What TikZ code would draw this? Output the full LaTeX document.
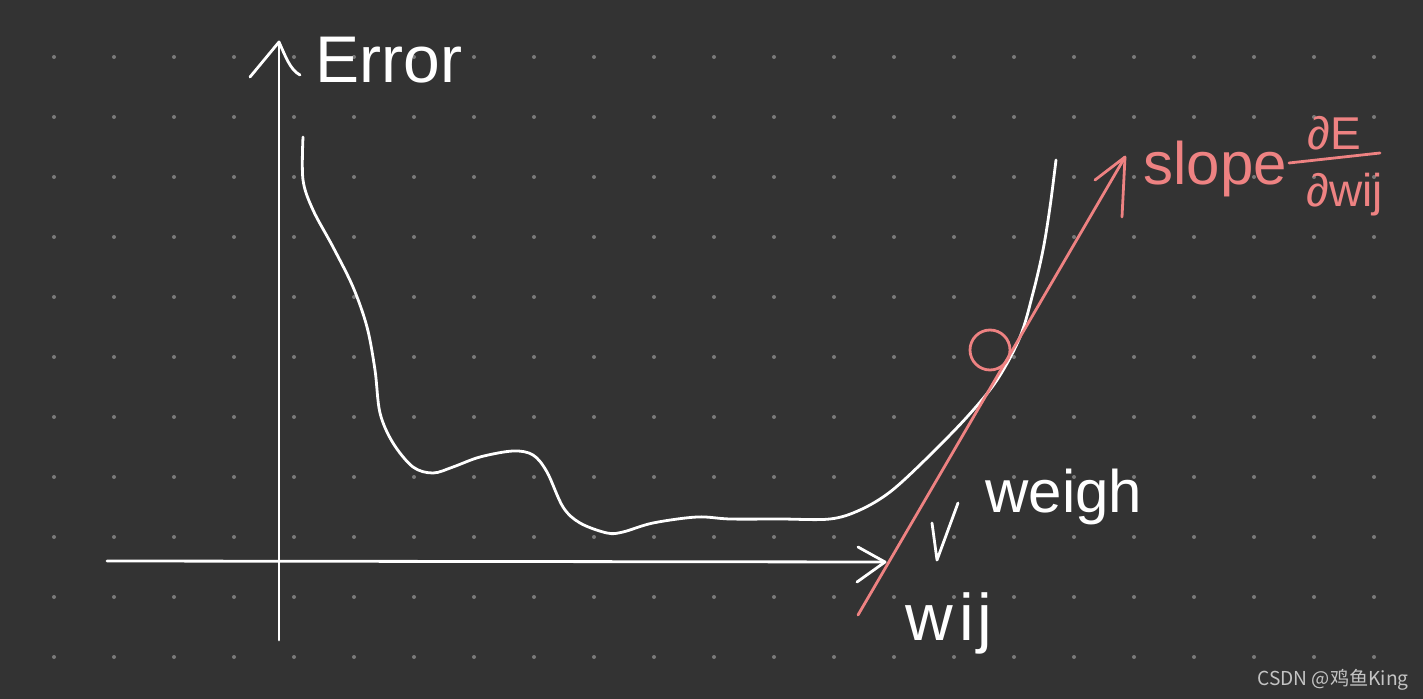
\documentclass[tikz,border=0pt]{standalone}
\usepackage{fontspec}
\setmainfont{Liberation Sans}
\newfontfamily\cjkfont{Noto Sans CJK SC}
\definecolor{bgc}{HTML}{333333}
\definecolor{dotc}{HTML}{7A7A7A}
\definecolor{pinkc}{HTML}{EE8282}
\definecolor{wmc}{HTML}{C4C4C4}
\begin{document}
\begin{tikzpicture}[x=0.5pt,y=-0.5pt,
  chalk/.style={draw=white,line width=1.4pt,line cap=round,line join=round},
  pinkline/.style={draw=pinkc,line width=1.4pt,line cap=round,line join=round},
  handtxt/.style={inner sep=0pt,text=white,font=\fontsize{30}{30}\selectfont},
  pinktxt/.style={inner sep=0pt,text=pinkc,font=\fontsize{30}{30}\selectfont}]
\fill[bgc] (0,0) rectangle (1423,699);
\useasboundingbox (0,0) rectangle (1423,699);
% dot grid
\foreach \i in {0,...,22}{\foreach \j in {0,...,10}{
  \fill[dotc] ({54+60*\i},{57+60*\j}) circle (2);}}
% axes
\coordinate (ybot) at (279,640);
\coordinate (ytip) at (279,42);
\coordinate (yl) at (250,77);
\coordinate (yr) at (300,75);
\coordinate (xleft) at (107,561);
\coordinate (xtip) at (885,562);
\coordinate (xu) at (858,547);
\coordinate (xd) at (857,582);
\draw[chalk] (ybot) -- (ytip);
\draw[chalk] (yl) -- (ytip) .. controls (285,55) and (290,70) .. (yr);
\draw[chalk] (xleft) -- (xtip);
\draw[chalk] (xu) -- (xtip) -- (xd);
% error curve
\draw[chalk] plot[smooth,tension=0.55] coordinates {
 (303,137) (303,180) (313,210) (333,247) (353,287) (367,327) (375,370) (380,413)
 (393,443) (413,467) (433,473) (453,467) (480,457) (513,451) (533,455) (547,472)
 (563,507) (580,523) (607,533) (623,532) (653,523) (697,517) (730,519) (780,519)
 (830,519) (860,510) (890,492) (925,460) (967,417) (997,380) (1020,337) (1033,293)
 (1043,250) (1050,207) (1056,160)};
% tangent
\coordinate (tbot) at (858,615);
\coordinate (ttip) at (1125,157);
\coordinate (tl) at (1095,180);
\coordinate (tr) at (1122,217);
\draw[pinkline] (tbot) -- (ttip);
\draw[pinkline] (tl) -- (ttip) -- (tr);
\node[circle,draw=pinkc,line width=1.4pt,minimum size=20pt,inner sep=0pt] (pt) at (990,350) {};
% labels
\node[handtxt,anchor=base west,font=\fontsize{33}{33}\selectfont] (err) at (315,83) {Error};
\node[pinktxt,anchor=base west] (slope) at (1143,185) {slope};
\node[pinktxt,anchor=base,font=\fontsize{23}{23}\selectfont] (num) at (1334,150) {∂E};
\node[pinktxt,anchor=base,font=\fontsize{23}{23}\selectfont] (den) at (1345,207) {∂wij};
\coordinate (barl) at (1289,163);
\coordinate (barr) at (1380,153);
\draw[pinkline] (barl) -- (barr);
\node[handtxt,anchor=base west] (weigh) at (985,512) {weigh};
\node[handtxt,anchor=base west,font=\fontsize{33}{33}\selectfont] (wij) at (905,640) {w\kern3pt i\kern2pt j};
% small arrow near weigh
\coordinate (sa) at (958,503);
\coordinate (sb) at (937,560);
\coordinate (sc) at (932,523);
\draw[chalk] (sa) -- (sb) -- (sc);
% watermark
\node[anchor=base west,inner sep=0pt,text=wmc,font=\cjkfont\fontsize{9.6}{9.6}\selectfont] (wm) at (1257,685) {CSDN @鸡鱼King};
\end{tikzpicture}
\end{document}
